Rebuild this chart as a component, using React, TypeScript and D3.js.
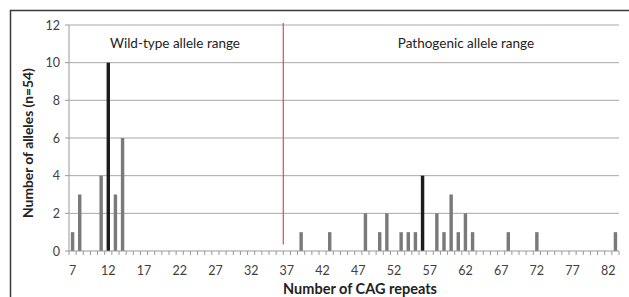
import * as d3 from "d3";

// CAG repeat counts and allele numbers
const repeats = d3.range(7, 84);
const alleleRepeats = [7, 8, 11, 12, 13, 14, 39, 43, 48, 50, 51, 53, 54, 55, 56, 58, 59, 60, 61, 62, 63, 68, 72, 83];
const alleleCounts = [1, 3, 4, 10, 3, 6, 1, 1, 2, 1, 2, 1, 1, 1, 4, 2, 1, 3, 1, 2, 1, 1, 1, 1];
const highlighted = [12, 56];
const yTicks = [0, 2, 4, 6, 8, 10, 12];
const xTickLabels = [7, 12, 17, 22, 27, 32, 37, 42, 47, 52, 57, 62, 67, 72, 77, 82];

const W = 629;
const H = 297;
const margin = { top: 25, right: 10, bottom: 46, left: 69 };
const font = "Lato, 'Open Sans', sans-serif";

export default function App() {
  const x = d3
    .scaleBand<number>()
    .domain(repeats)
    .range([margin.left, W - margin.right])
    .paddingInner(0.52)
    .paddingOuter(0.26);
  const y = d3.scaleLinear().domain([0, 12]).range([H - margin.bottom, margin.top]);

  const data = alleleRepeats.map((r, i) => ({ r, n: alleleCounts[i] }));
  const step = x.step();
  const x0 = margin.left;
  const x1 = W - margin.right;
  const boundary = x(37)! - (step * x.paddingInner()) / 2;

  return (
    <svg
      width={W}
      height={H}
      style={{ position: "absolute", left: 0, top: 0, background: "#fff" }}
      fontFamily={font}
    >
      {/* outer frame */}
      <path d={`M10.5,${H} V10.5 H${W}`} fill="none" stroke="#3a3a3a" strokeWidth={1.5} />

      {/* grid */}
      {yTicks.slice(1).map((t) => (
        <line key={t} x1={x0} x2={x1} y1={y(t)} y2={y(t)} stroke="#a8a8a8" strokeWidth={1} />
      ))}

      {/* y axis */}
      <line x1={x0} x2={x0} y1={y(12)} y2={y(0)} stroke="#999" />
      {yTicks.map((t) => (
        <g key={t}>
          <line x1={x0 - 4} x2={x0} y1={y(t)} y2={y(t)} stroke="#999" />
          <text x={x0 - 9} y={y(t) + 4.5} textAnchor="end" fontSize={12.5} fill="#404040">
            {t}
          </text>
        </g>
      ))}

      {/* bars */}
      {data.map((d) => (
        <rect
          key={d.r}
          x={x(d.r)}
          y={y(d.n)}
          width={x.bandwidth()}
          height={y(0) - y(d.n)}
          fill={highlighted.includes(d.r) ? "#1c1c1c" : "#7a7a7a"}
        />
      ))}

      {/* x axis */}
      <line x1={x0} x2={x1} y1={y(0)} y2={y(0)} stroke="#999" />
      {repeats.concat([84]).map((r, i) => {
        const xx = x0 + i * step;
        return <line key={r} x1={xx} x2={xx} y1={y(0)} y2={y(0) + 4} stroke="#999" />;
      })}
      {xTickLabels.map((t) => (
        <text
          key={t}
          x={x(t)! + x.bandwidth() / 2}
          y={y(0) + 24}
          textAnchor="middle"
          fontSize={12.5}
          fill="#404040"
        >
          {t}
        </text>
      ))}

      {/* range divider */}
      <line x1={boundary} x2={boundary} y1={y(12.1)} y2={y(0.35)} stroke="#e8454f" strokeWidth={1.2} />

      <text x={175} y={48} textAnchor="middle" fontSize={13.5} fill="#222">
        Wild-type allele range
      </text>
      <text x={466} y={48} textAnchor="middle" fontSize={13.5} fill="#222">
        Pathogenic allele range
      </text>

      {/* axis titles */}
      <text x={360} y={294} textAnchor="middle" fontSize={14.5} fontWeight="bold" fill="#222">
        Number of CAG repeats
      </text>
      <text
        transform={`translate(33,143) rotate(-90)`}
        textAnchor="middle"
        fontSize={13.8}
        fontWeight="bold"
        fill="#222"
      >
        Number of alleles (n=54)
      </text>
    </svg>
  );
}
